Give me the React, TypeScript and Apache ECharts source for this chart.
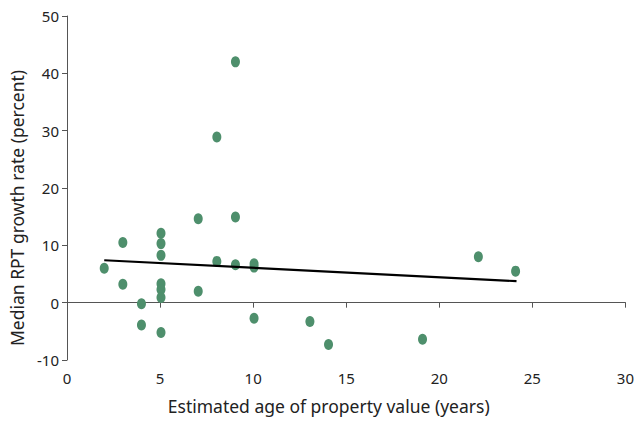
import React, { useEffect, useRef } from "react";
import * as echarts from "echarts";

const ageYears = [2.0, 3.0, 3.0, 4.0, 4.0, 5.05, 5.05, 5.05, 5.05, 5.05, 5.05, 5.05, 7.05, 7.05, 8.05, 8.05, 9.05, 9.05, 9.05, 10.05, 10.05, 10.05, 13.05, 14.05, 19.1, 22.1, 24.1];
const growthRate = [6.0, 10.5, 3.2, -0.2, -3.9, 12.1, 10.3, 8.25, 3.3, 2.3, 0.9, -5.2, 14.65, 2.0, 28.9, 7.2, 42.0, 14.95, 6.6, 6.8, 6.2, -2.7, -3.3, -7.3, -6.4, 8.0, 5.5];
const trendX = [2.0, 24.15];
const trendY = [7.4, 3.75];
const xTicks = [0, 5, 10, 15, 20, 25, 30];
const yTicks = [-10, 0, 10, 20, 30, 40, 50];

export default function App() {
  const ref = useRef<HTMLDivElement>(null);
  useEffect(() => {
    if (!ref.current) return;
    const chart = echarts.init(ref.current, null, { renderer: "svg" });
    const font = "'Noto Sans', sans-serif";
    const axisColor = "#555";
    chart.setOption({
      animation: false,
      backgroundColor: "#fff",
      grid: { left: 67, right: 7, top: 16, bottom: 61, containLabel: false },
      xAxis: [
        {
          type: "value",
          min: xTicks[0],
          max: xTicks[xTicks.length - 1],
          interval: 5,
          axisLine: { show: true, onZero: true, lineStyle: { color: axisColor, width: 1 } },
          axisTick: { show: true, length: 5, lineStyle: { color: axisColor } },
          axisLabel: { show: false },
          splitLine: { show: false },
        },
        {
          type: "value",
          position: "bottom",
          min: xTicks[0],
          max: xTicks[xTicks.length - 1],
          interval: 5,
          axisLine: { show: false, onZero: false },
          axisTick: { show: false },
          axisLabel: { show: true, margin: 10, color: "#222", fontSize: 15, fontFamily: font },
          splitLine: { show: false },
          name: "Estimated age of property value (years)",
          nameLocation: "middle",
          nameGap: 37,
          nameTextStyle: { color: "#222", fontSize: 17.5, fontFamily: font, padding: [0, 35, 0, 0] },
        },
      ],
      yAxis: {
        type: "value",
        min: yTicks[0],
        max: yTicks[yTicks.length - 1],
        interval: 10,
        axisLine: { show: true, onZero: false, lineStyle: { color: axisColor, width: 1 } },
        axisTick: { show: true, length: 5, lineStyle: { color: axisColor } },
        axisLabel: { color: "#222", fontSize: 15, fontFamily: font, margin: 8 },
        splitLine: { show: false },
        name: "Median RPT growth rate (percent)",
        nameLocation: "middle",
        nameGap: 39,
        nameTextStyle: { color: "#222", fontSize: 17.5, fontFamily: font, padding: [0, 40, 0, 0] },
      },
      series: [
        {
          type: "scatter",
          xAxisIndex: 0,
          data: ageYears.map((x, i) => [x, growthRate[i]]),
          symbol: "circle",
          symbolSize: [9, 11],
          itemStyle: { color: "#4e8f6c", opacity: 1 },
          z: 2,
        },
        {
          type: "line",
          xAxisIndex: 0,
          data: trendX.map((x, i) => [x, trendY[i]]),
          showSymbol: false,
          symbol: "none",
          lineStyle: { color: "#000", width: 2.2 },
          z: 3,
        },
      ],
    });
    return () => chart.dispose();
  }, []);
  return <div ref={ref} style={{ width: 637, height: 421, position: "absolute", left: 0, top: 0 }} />;
}
